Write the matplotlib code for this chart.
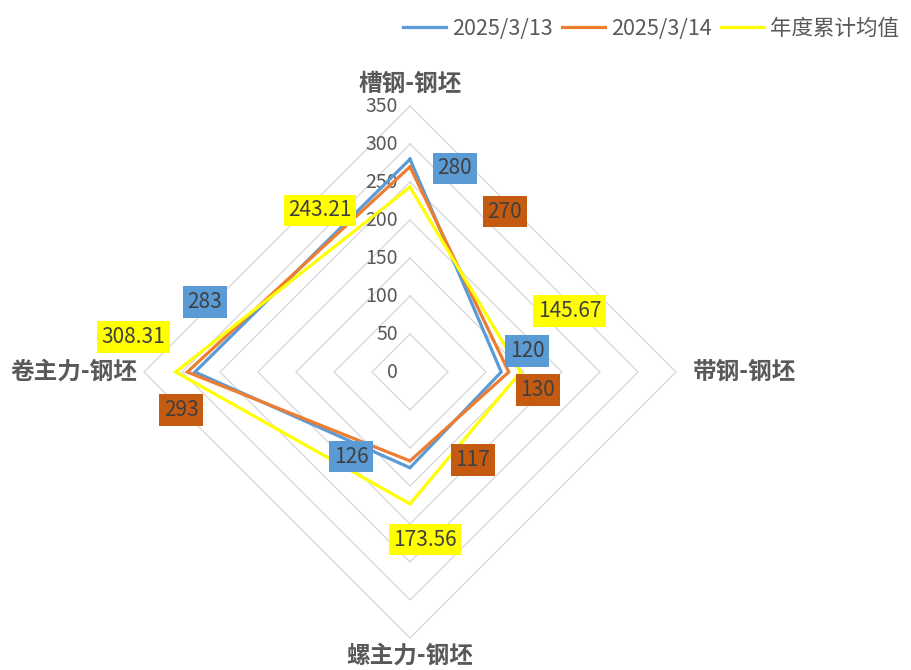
import numpy as np
import matplotlib
matplotlib.use("Agg")
import matplotlib.pyplot as plt

plt.rcParams['font.family'] = ['Noto Sans CJK SC', 'DejaVu Sans']

categories = ["槽钢-钢坯", "带钢-钢坯", "螺主力-钢坯", "卷主力-钢坯"]
series_names = ["2025/3/13", "2025/3/14", "年度累计均值"]
s_0313 = [280, 120, 126, 283]
s_0314 = [270, 130, 117, 293]
s_avg = [243.21, 145.67, 173.56, 308.31]
label_0313 = ["280", "120", "126", "283"]
label_0314 = ["270", "130", "117", "293"]
label_avg = ["243.21", "145.67", "173.56", "308.31"]
r_ticks = [0, 50, 100, 150, 200, 250, 300, 350]

line_colors = ["#5B9BD5", "#ED7D31", "#FFFF00"]
box_colors = ["#5B9BD5", "#C55A11", "#FFFF00"]
# label offsets in pixels (dx, dy) from data point
offsets = [
    [(45, -9), (26, 21), (-59, 11), (10, 70)],
    [(95, -45), (29, -18), (63, 1), (-6, -38)],
    [(-90, -23), (49, 61), (15, -36), (-42, 35)],
]

fig = plt.figure(figsize=(9.12, 6.7), dpi=100)
W, H = 912, 670
cx, cy, R = 410, 372, 266
ax = fig.add_axes([(cx - R) / W, (H - cy - R) / H, 2 * R / W, 2 * R / H], projection='polar')
ax.set_theta_offset(np.pi / 2)
ax.set_theta_direction(-1)
ax.set_ylim(0, 350)
ax.grid(False)
ax.spines['polar'].set_visible(False)
ax.set_xticks([])
ax.set_yticks([])
ax.patch.set_alpha(0)

n = len(categories)
theta = np.arange(n) * 2 * np.pi / n
theta_c = np.append(theta, theta[0])

# diamond grid
for r in r_ticks[1:]:
    ax.plot(theta_c, [r] * (n + 1), color="#d9d9d9", lw=1.0, zorder=1, clip_on=False)

# radial tick labels
for r in r_ticks:
    ax.annotate(str(r), xy=(0, r), xytext=(-12, 0), textcoords='offset pixels',
                ha='right', va='center', fontsize=14, color="#595959", zorder=2)

all_series = [s_0313, s_0314, s_avg]
all_labels = [label_0313, label_0314, label_avg]
for i, (vals, name) in enumerate(zip(all_series, series_names)):
    v = list(vals) + [vals[0]]
    ax.plot(theta_c, v, color=line_colors[i], lw=2.3, label=name, zorder=3 + i,
            solid_joinstyle='miter', clip_on=False)

for i, (vals, labs) in enumerate(zip(all_series, all_labels)):
    for j in range(n):
        ax.annotate(labs[j], xy=(theta[j], vals[j]), xytext=offsets[i][j],
                    textcoords='offset pixels', ha='center', va='center',
                    fontsize=15, color="#404040", zorder=10,
                    bbox=dict(boxstyle='square,pad=0.22', fc=box_colors[i], ec='none'))

# category labels
cat_r = [380, 440, 373, 442]
for j in range(n):
    ax.text(theta[j], cat_r[j], categories[j], ha='center', va='center',
            fontsize=17, color="#595959", fontweight='bold', clip_on=False)

leg = fig.legend(loc='upper right', bbox_to_anchor=(1.0, 1.0 - 5 / H), ncol=3, frameon=False,
                 fontsize=15.5, handlelength=2.0, columnspacing=0.4, handletextpad=0.3,
                 borderaxespad=0.2)
for line in leg.get_lines():
    line.set_linewidth(2.3)
for t in leg.get_texts():
    t.set_color("#595959")

fig.savefig("out.png", dpi=100)
